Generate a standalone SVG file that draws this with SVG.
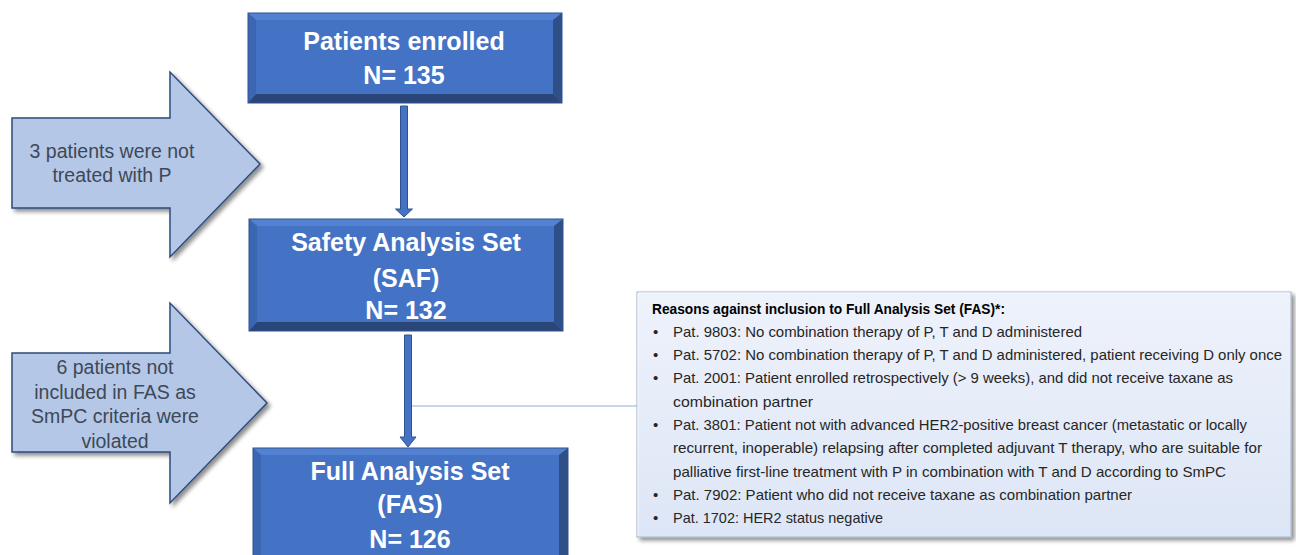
<svg xmlns="http://www.w3.org/2000/svg" width="1296" height="555" viewBox="0 0 1296 555">
<defs>
<style>
.face{fill:#4472c4}
.bt{fill:#5482d3}
.bl{fill:#3b66b2}
.br{fill:#2e4f88}
.bb{fill:#2a4679}
.outline{fill:none;stroke:#2f528f;stroke-width:1}
.btxt{font-family:"Liberation Sans",Arial,sans-serif;font-weight:bold;font-size:25px;fill:#ffffff;text-anchor:middle}
.side{fill:#b4c7e7;stroke:#2f4b7c;stroke-width:1.5;stroke-linejoin:miter}
.stxt{font-family:"Liberation Sans",Arial,sans-serif;font-size:19.5px;fill:#3e4856;text-anchor:middle}
.conn{fill:#4472c4;stroke:#2f528f;stroke-width:1}
.ln{fill:none;stroke:#8faadc;stroke-width:1}
.ntxt{font-family:"Liberation Sans",Arial,sans-serif;font-size:15px;fill:#262626}
.ntitle{font-family:"Liberation Sans",Arial,sans-serif;font-size:14.5px;font-weight:bold;fill:#000000}
</style>
<filter id="sh" x="-10%" y="-10%" width="130%" height="130%">
<feGaussianBlur in="SourceAlpha" stdDeviation="2"/>
<feOffset dx="2.5" dy="2.5" result="b"/>
<feComponentTransfer><feFuncA type="linear" slope="0.45"/></feComponentTransfer>
<feMerge><feMergeNode/><feMergeNode in="SourceGraphic"/></feMerge>
</filter>
<linearGradient id="ng" x1="0" y1="0" x2="0" y2="1">
<stop offset="0" stop-color="#eef2fb"/>
<stop offset="1" stop-color="#dde6f6"/>
</linearGradient>
</defs>
<rect width="1296" height="555" fill="#ffffff"/>

<g id="connectors">
<path class="conn" d="M400.5,106 H407.5 V209 H412.5 L404,217 L395.5,209 H400.5 Z"/>
<path class="conn" d="M404.5,335 H411.5 V437 H416 L408,447 L400,437 H404.5 Z"/>
<path class="ln" d="M412,406 H637"/>
</g>

<g id="node-enrolled">
<rect class="face" x="248" y="13" width="314" height="90"/>
<polygon class="bt" points="248,13 562,13 553,20 256,20"/>
<polygon class="bl" points="248,13 256,20 256,94 248,103"/>
<polygon class="br" points="562,13 562,103 553,94 553,20"/>
<polygon class="bb" points="248,103 256,94 553,94 562,103"/>
<rect class="outline" x="248" y="13" width="314" height="90"/>
<text class="btxt" x="404" y="50">Patients enrolled</text>
<text class="btxt" x="404" y="84">N= 135</text>
</g>

<g id="node-saf">
<rect class="face" x="249" y="219" width="314" height="112"/>
<polygon class="bt" points="249,219 563,219 554,226 257,226"/>
<polygon class="bl" points="249,219 257,226 257,322 249,331"/>
<polygon class="br" points="563,219 563,331 554,322 554,226"/>
<polygon class="bb" points="249,331 257,322 554,322 563,331"/>
<rect class="outline" x="249" y="219" width="314" height="112"/>
<text class="btxt" x="406" y="251">Safety Analysis Set</text>
<text class="btxt" x="406" y="287">(SAF)</text>
<text class="btxt" x="406" y="319">N= 132</text>
</g>

<g id="node-fas">
<rect class="face" x="253" y="448" width="315" height="117"/>
<polygon class="bt" points="253,448 568,448 559,455 261,455"/>
<polygon class="bl" points="253,448 261,455 261,556 253,565"/>
<polygon class="br" points="568,448 568,565 559,556 559,455"/>
<rect class="outline" x="253" y="448" width="315" height="117"/>
<text class="btxt" x="410" y="480">Full Analysis Set</text>
<text class="btxt" x="410" y="513">(FAS)</text>
<text class="btxt" x="410" y="548">N= 126</text>
</g>

<g id="node-excl-p">
<polygon class="side" filter="url(#sh)" points="12,118 170,118 170,72 260,164 170,257 170,208 12,208"/>
<text class="stxt" x="112" y="158">3 patients were not</text>
<text class="stxt" x="112" y="182">treated with P</text>
</g>

<g id="node-excl-fas">
<polygon class="side" filter="url(#sh)" points="12,353 170,353 170,303 267,403 170,503 170,452 12,452"/>
<text class="stxt" x="115" y="374">6 patients not</text>
<text class="stxt" x="115" y="398.5">included in FAS as</text>
<text class="stxt" x="115" y="423">SmPC criteria were</text>
<text class="stxt" x="115" y="447.5">violated</text>
</g>

<g id="node-reasons">
<rect x="637" y="292" width="654" height="245" fill="url(#ng)" stroke="#a3b3cc" stroke-width="1" filter="url(#sh)"/>
<path d="M638,536 V293 H1290" fill="none" stroke="#ffffff" stroke-width="1" opacity="0.8"/>
<text class="ntitle" x="652" y="313.5" textLength="353" lengthAdjust="spacingAndGlyphs">Reasons against inclusion to Full Analysis Set (FAS)*:</text>
<g class="ntxt">
<text x="653" y="336.8">•</text>
<text x="673" y="336.8" textLength="409" lengthAdjust="spacingAndGlyphs">Pat. 9803: No combination therapy of P, T and D administered</text>
<text x="653" y="360.1">•</text>
<text x="673" y="360.1" textLength="609" lengthAdjust="spacingAndGlyphs">Pat. 5702: No combination therapy of P, T and D administered, patient receiving D only once</text>
<text x="653" y="383.4">•</text>
<text x="673" y="383.4" textLength="560" lengthAdjust="spacingAndGlyphs">Pat. 2001: Patient enrolled retrospectively (&gt; 9 weeks), and did not receive taxane as</text>
<text x="673" y="406.7" textLength="140" lengthAdjust="spacingAndGlyphs">combination partner</text>
<text x="653" y="430">•</text>
<text x="673" y="430" textLength="574" lengthAdjust="spacingAndGlyphs">Pat. 3801: Patient not with advanced HER2-positive breast cancer (metastatic or locally</text>
<text x="673" y="453.3" textLength="589" lengthAdjust="spacingAndGlyphs">recurrent, inoperable) relapsing after completed adjuvant T therapy, who are suitable for</text>
<text x="673" y="476.6" textLength="553" lengthAdjust="spacingAndGlyphs">palliative first-line treatment with P in combination with T and D according to SmPC</text>
<text x="653" y="499.9">•</text>
<text x="673" y="499.9" textLength="459" lengthAdjust="spacingAndGlyphs">Pat. 7902: Patient who did not receive taxane as combination partner</text>
<text x="653" y="523.2">•</text>
<text x="673" y="523.2" textLength="210" lengthAdjust="spacingAndGlyphs">Pat. 1702: HER2 status negative</text>
</g>
</g>
</svg>
